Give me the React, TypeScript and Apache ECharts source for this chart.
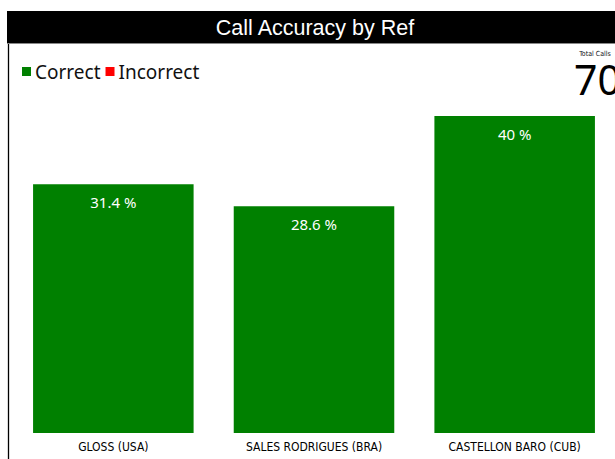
import React, { useEffect, useRef } from "react";
import * as echarts from "echarts";

const categories = ["GLOSS (USA)", "SALES RODRIGUES (BRA)", "CASTELLON BARO (CUB)"];
const correctPct = [31.4, 28.6, 40];
const incorrectPct: number[] = [];
const totalCalls = 70;
const titleText = "Call Accuracy by Ref";

export default function App() {
  const ref = useRef<HTMLDivElement>(null);
  useEffect(() => {
    if (!ref.current) return;
    const chart = echarts.init(ref.current, null, { renderer: "svg" });
    chart.setOption({
      animation: false,
      backgroundColor: "#ffffff",
      grid: { left: 13, right: 0, top: 116, bottom: 26, containLabel: false },
      legend: {
        left: 17,
        top: 57,
        icon: "rect",
        itemWidth: 9,
        itemHeight: 9,
        itemGap: 5,
        textStyle: { fontFamily: "Noto Sans", fontSize: 19, color: "#111", padding: [0, 0, 0, -1] },
        data: ["Correct", "Incorrect"],
      },
      xAxis: {
        type: "category",
        data: categories,
        axisLine: { show: false },
        axisTick: { show: false },
        axisLabel: { color: "#000", fontFamily: "DejaVu Sans Condensed", fontSize: 12, margin: 8 },
      },
      yAxis: { type: "value", min: 0, max: 40, show: false },
      series: [
        {
          name: "Correct",
          type: "bar",
          stack: "calls",
          data: correctPct,
          barCategoryGap: "20%",
          itemStyle: { color: "#008000" },
          label: {
            show: true,
            position: "insideTop",
            distance: 10,
            color: "#ffffff",
            fontFamily: "Noto Sans",
            fontSize: 15,
            formatter: (p: any) => `${p.value} %`,
          },
        },
        {
          name: "Incorrect",
          type: "bar",
          stack: "calls",
          data: incorrectPct,
          itemStyle: { color: "#ff0000" },
        },
      ],
      graphic: [
        { type: "rect", shape: { x: 7, y: 11, width: 620, height: 33 }, style: { fill: "#000" } },
        { type: "line", shape: { x1: 7, y1: 43.5, x2: 615, y2: 43.5 }, style: { stroke: "#888", lineWidth: 1 } },
        { type: "line", shape: { x1: 8.5, y1: 44, x2: 8.5, y2: 459 }, style: { stroke: "#000", lineWidth: 1.3 } },
        {
          type: "text",
          x: 315,
          y: 28,
          style: {
            text: titleText,
            fill: "#fff",
            font: "21.5px 'Liberation Sans', Arial, sans-serif",
            align: "center",
            verticalAlign: "middle",
          },
        },
        {
          type: "text",
          x: 595,
          y: 54,
          style: {
            text: "Total Calls",
            fill: "#111",
            font: "7px 'DejaVu Sans Condensed', sans-serif",
            align: "center",
            verticalAlign: "middle",
          },
        },
        {
          type: "text",
          x: 574,
          y: 79,
          style: {
            text: String(totalCalls),
            fill: "#000",
            font: "41px 'Noto Sans', sans-serif",
            lineHeight: 36,
            align: "left",
            verticalAlign: "middle",
          },
        },
      ],
    });
    return () => chart.dispose();
  }, []);
  return <div ref={ref} style={{ position: "fixed", left: 0, top: 0, width: 615, height: 459 }} />;
}
